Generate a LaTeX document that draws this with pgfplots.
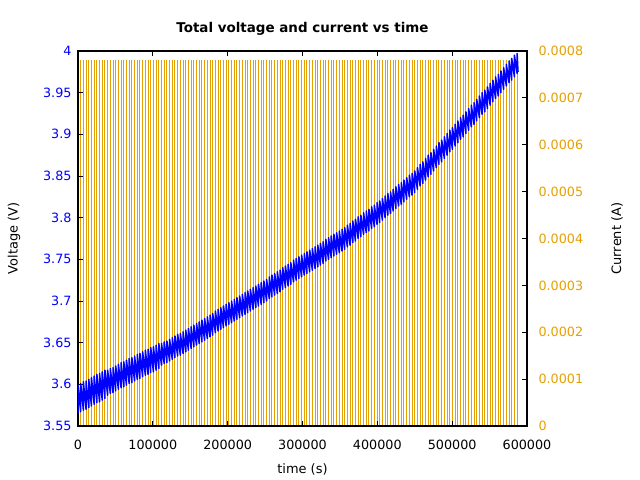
\documentclass[border=0pt]{standalone}
\usepackage{pgfplots}
\pgfplotsset{compat=1.18}
\usepackage{fontspec}
\setmainfont{DejaVu Sans}
\definecolor{gpOrange}{HTML}{E69F00}
\definecolor{gpBlue}{HTML}{0000FF}
\begin{document}
\begin{tikzpicture}
\path[use as bounding box] (0,0) rectangle (640bp,480bp);
\pgfplotsset{
  every axis/.append style={font=\fontsize{13}{15}\selectfont},
  /pgf/number format/assume math mode=true,
}
% ---------- current (right axis) ----------
\begin{axis}[
  at={(78bp,54bp)}, anchor=south west,
  scale only axis, width=449bp, height=375bp,
  xmin=0, xmax=600000, ymin=0, ymax=0.0008,
  axis x line=none,
  axis y line*=right,
  axis line style={draw=none},
  ytick={0,0.0001,0.0002,0.0003,0.0004,0.0005,0.0006,0.0007,0.0008},
  yticklabels={0,0.0001,0.0002,0.0003,0.0004,0.0005,0.0006,0.0007,0.0008},
  scaled y ticks=false,
  ytick pos=right,
  tick align=inside,
  major tick length=5bp,
  every tick/.style={black, line width=0.8pt},
  yticklabel style={text=gpOrange, xshift=8bp, font=\fontsize{12.8}{15}\selectfont},
  ylabel={Current (A)},
  ylabel style={at={(axis description cs:1.2004,0.5)}, anchor=center, rotate=0, font=\fontsize{13}{15}\selectfont},
  clip=true,
]
\addplot[ycomb, draw=gpOrange, line width=1.0bp, mark=none] coordinates {
(3600,0.00078)(7200,0.00078)(10800,0.00078)(14400,0.00078)(18000,0.00078)(21600,0.00078)(25200,0.00078)(28800,0.00078)(32400,0.00078)(36000,0.00078)
(39600,0.00078)(43200,0.00078)(46800,0.00078)(50400,0.00078)(54000,0.00078)(57600,0.00078)(61200,0.00078)(64800,0.00078)(68400,0.00078)(72000,0.00078)
(75600,0.00078)(79200,0.00078)(82800,0.00078)(86400,0.00078)(90000,0.00078)(93600,0.00078)(97200,0.00078)(100800,0.00078)(104400,0.00078)(108000,0.00078)
(111600,0.00078)(115200,0.00078)(118800,0.00078)(122400,0.00078)(126000,0.00078)(129600,0.00078)(133200,0.00078)(136800,0.00078)(140400,0.00078)(144000,0.00078)
(147600,0.00078)(151200,0.00078)(154800,0.00078)(158400,0.00078)(162000,0.00078)(165600,0.00078)(169200,0.00078)(172800,0.00078)(176400,0.00078)(180000,0.00078)
(183600,0.00078)(187200,0.00078)(190800,0.00078)(194400,0.00078)(198000,0.00078)(201600,0.00078)(205200,0.00078)(208800,0.00078)(212400,0.00078)(216000,0.00078)
(219600,0.00078)(223200,0.00078)(226800,0.00078)(230400,0.00078)(234000,0.00078)(237600,0.00078)(241200,0.00078)(244800,0.00078)(248400,0.00078)(252000,0.00078)
(255600,0.00078)(259200,0.00078)(262800,0.00078)(266400,0.00078)(270000,0.00078)(273600,0.00078)(277200,0.00078)(280800,0.00078)(284400,0.00078)(288000,0.00078)
(291600,0.00078)(295200,0.00078)(298800,0.00078)(302400,0.00078)(306000,0.00078)(309600,0.00078)(313200,0.00078)(316800,0.00078)(320400,0.00078)(324000,0.00078)
(327600,0.00078)(331200,0.00078)(334800,0.00078)(338400,0.00078)(342000,0.00078)(345600,0.00078)(349200,0.00078)(352800,0.00078)(356400,0.00078)(360000,0.00078)
(363600,0.00078)(367200,0.00078)(370800,0.00078)(374400,0.00078)(378000,0.00078)(381600,0.00078)(385200,0.00078)(388800,0.00078)(392400,0.00078)(396000,0.00078)
(399600,0.00078)(403200,0.00078)(406800,0.00078)(410400,0.00078)(414000,0.00078)(417600,0.00078)(421200,0.00078)(424800,0.00078)(428400,0.00078)(432000,0.00078)
(435600,0.00078)(439200,0.00078)(442800,0.00078)(446400,0.00078)(450000,0.00078)(453600,0.00078)(457200,0.00078)(460800,0.00078)(464400,0.00078)(468000,0.00078)
(471600,0.00078)(475200,0.00078)(478800,0.00078)(482400,0.00078)(486000,0.00078)(489600,0.00078)(493200,0.00078)(496800,0.00078)(500400,0.00078)(504000,0.00078)
(507600,0.00078)(511200,0.00078)(514800,0.00078)(518400,0.00078)(522000,0.00078)(525600,0.00078)(529200,0.00078)(532800,0.00078)(536400,0.00078)(540000,0.00078)
(543600,0.00078)(547200,0.00078)(550800,0.00078)(554400,0.00078)(558000,0.00078)(561600,0.00078)(565200,0.00078)(568800,0.00078)(572400,0.00078)(576000,0.00078)
(579600,0.00078)(583200,0.00078)(586800,0.00078)
};
\end{axis}
% ---------- voltage (left axis) ----------
\begin{axis}[
  at={(78bp,54bp)}, anchor=south west,
  scale only axis, width=449bp, height=375bp,
  xmin=0, xmax=600000, ymin=3.55, ymax=4.0,
  axis line style={black, line width=1.1pt},
  xtick={0,100000,200000,300000,400000,500000,600000},
  xticklabels={0,100000,200000,300000,400000,500000,600000},
  scaled x ticks=false,
  ytick={3.55,3.6,3.65,3.7,3.75,3.8,3.85,3.9,3.95,4},
  yticklabels={3.55,3.6,3.65,3.7,3.75,3.8,3.85,3.9,3.95,4},
  ytick pos=left,
  xtick pos=both,
  tick align=inside,
  major tick length=5bp,
  every tick/.style={black, line width=0.8pt},
  yticklabel style={text=gpBlue, xshift=-3bp, font=\fontsize{12.8}{15}\selectfont},
  xticklabel style={yshift=-11bp, font=\fontsize{12.8}{15}\selectfont},
  xlabel={time (s)},
  xlabel style={at={(axis description cs:0.5,-0.1147)}, anchor=center, font=\fontsize{13}{15}\selectfont},
  ylabel={Voltage (V)},
  ylabel style={at={(axis description cs:-0.1425,0.5)}, anchor=center, font=\fontsize{13}{15}\selectfont},
  title={\bfseries Total voltage and current vs time},
  title style={at={(axis description cs:0.5,1.0427)}, anchor=center, font=\fontsize{13.5}{16}\selectfont},
  clip=true,
]
\addplot[draw=gpBlue, line width=1.5bp, mark=none, line join=round] coordinates {
(0,3.565)(0,3.599)(3600,3.567)(3600,3.601)(7200,3.569)(7200,3.603)(10800,3.570)(10800,3.604)(14400,3.572)(14400,3.606)
(18000,3.574)(18000,3.608)(21600,3.576)(21600,3.610)(25200,3.578)(25200,3.612)(28800,3.579)(28800,3.613)(32400,3.581)(32400,3.615)
(36000,3.583)(36000,3.617)(39600,3.587)(39600,3.617)(43200,3.589)(43200,3.619)(46800,3.590)(46800,3.620)(50400,3.592)(50400,3.622)
(54000,3.594)(54000,3.624)(57600,3.596)(57600,3.626)(61200,3.597)(61200,3.627)(64800,3.599)(64800,3.629)(68400,3.601)(68400,3.631)
(72000,3.602)(72000,3.632)(75600,3.604)(75600,3.634)(79200,3.606)(79200,3.636)(82800,3.607)(82800,3.637)(86400,3.609)(86400,3.639)
(90000,3.611)(90000,3.641)(93600,3.612)(93600,3.642)(97200,3.614)(97200,3.644)(100800,3.615)(100800,3.645)(104400,3.617)(104400,3.647)
(108000,3.619)(108000,3.649)(111600,3.623)(111600,3.649)(115200,3.625)(115200,3.651)(118800,3.626)(118800,3.652)(122400,3.628)(122400,3.654)
(126000,3.630)(126000,3.656)(129600,3.632)(129600,3.658)(133200,3.634)(133200,3.660)(136800,3.635)(136800,3.661)(140400,3.637)(140400,3.663)
(144000,3.639)(144000,3.665)(147600,3.641)(147600,3.667)(151200,3.643)(151200,3.669)(154800,3.645)(154800,3.671)(158400,3.647)(158400,3.673)
(162000,3.649)(162000,3.675)(165600,3.651)(165600,3.677)(169200,3.653)(169200,3.679)(172800,3.655)(172800,3.681)(176400,3.657)(176400,3.683)
(180000,3.659)(180000,3.685)(183600,3.662)(183600,3.688)(187200,3.664)(187200,3.690)(190800,3.666)(190800,3.692)(194400,3.668)(194400,3.694)
(198000,3.670)(198000,3.696)(201600,3.672)(201600,3.698)(205200,3.674)(205200,3.700)(208800,3.676)(208800,3.702)(212400,3.678)(212400,3.704)
(216000,3.680)(216000,3.706)(219600,3.682)(219600,3.708)(223200,3.684)(223200,3.710)(226800,3.686)(226800,3.712)(230400,3.688)(230400,3.714)
(234000,3.690)(234000,3.716)(237600,3.692)(237600,3.718)(241200,3.694)(241200,3.720)(244800,3.696)(244800,3.722)(248400,3.698)(248400,3.724)
(252000,3.700)(252000,3.726)(255600,3.703)(255600,3.729)(259200,3.705)(259200,3.731)(262800,3.707)(262800,3.733)(266400,3.709)(266400,3.735)
(270000,3.711)(270000,3.737)(273600,3.714)(273600,3.740)(277200,3.716)(277200,3.742)(280800,3.718)(280800,3.744)(284400,3.720)(284400,3.746)
(288000,3.723)(288000,3.749)(291600,3.725)(291600,3.751)(295200,3.727)(295200,3.753)(298800,3.729)(298800,3.755)(302400,3.731)(302400,3.757)
(306000,3.733)(306000,3.759)(309600,3.735)(309600,3.761)(313200,3.737)(313200,3.763)(316800,3.739)(316800,3.765)(320400,3.741)(320400,3.767)
(324000,3.743)(324000,3.769)(327600,3.745)(327600,3.771)(331200,3.748)(331200,3.774)(334800,3.750)(334800,3.776)(338400,3.752)(338400,3.778)
(342000,3.754)(342000,3.780)(345600,3.756)(345600,3.782)(349200,3.758)(349200,3.784)(352800,3.760)(352800,3.786)(356400,3.762)(356400,3.788)
(360000,3.765)(360000,3.791)(363600,3.767)(363600,3.793)(367200,3.770)(367200,3.796)(370800,3.772)(370800,3.798)(374400,3.775)(374400,3.801)
(378000,3.777)(378000,3.803)(381600,3.780)(381600,3.806)(385200,3.782)(385200,3.808)(388800,3.784)(388800,3.810)(392400,3.787)(392400,3.813)
(396000,3.789)(396000,3.815)(399600,3.792)(399600,3.818)(403200,3.794)(403200,3.820)(406800,3.797)(406800,3.823)(410400,3.800)(410400,3.826)
(414000,3.803)(414000,3.829)(417600,3.805)(417600,3.831)(421200,3.808)(421200,3.834)(424800,3.811)(424800,3.837)(428400,3.814)(428400,3.840)
(432000,3.816)(432000,3.842)(435600,3.819)(435600,3.845)(439200,3.822)(439200,3.848)(442800,3.825)(442800,3.851)(446400,3.827)(446400,3.853)
(450000,3.830)(450000,3.856)(453600,3.834)(453600,3.860)(457200,3.838)(457200,3.864)(460800,3.841)(460800,3.867)(464400,3.845)(464400,3.871)
(468000,3.849)(468000,3.875)(471600,3.852)(471600,3.878)(475200,3.856)(475200,3.882)(478800,3.860)(478800,3.886)(482400,3.864)(482400,3.890)
(486000,3.867)(486000,3.893)(489600,3.871)(489600,3.897)(493200,3.875)(493200,3.901)(496800,3.879)(496800,3.905)(500400,3.882)(500400,3.908)
(504000,3.886)(504000,3.912)(507600,3.890)(507600,3.916)(511200,3.894)(511200,3.920)(514800,3.897)(514800,3.923)(518400,3.901)(518400,3.927)
(522000,3.905)(522000,3.931)(525600,3.909)(525600,3.935)(529200,3.912)(529200,3.938)(532800,3.916)(532800,3.942)(536400,3.920)(536400,3.946)
(540000,3.924)(540000,3.950)(543600,3.927)(543600,3.953)(547200,3.931)(547200,3.957)(550800,3.935)(550800,3.961)(554400,3.939)(554400,3.965)
(558000,3.943)(558000,3.969)(561600,3.946)(561600,3.972)(565200,3.950)(565200,3.976)(568800,3.954)(568800,3.980)(572400,3.958)(572400,3.984)
(576000,3.962)(576000,3.988)(579600,3.965)(579600,3.991)(583200,3.969)(583200,3.995)(586800,3.973)(586800,3.997)(588000,3.975)
};
\end{axis}
\end{tikzpicture}
\end{document}
